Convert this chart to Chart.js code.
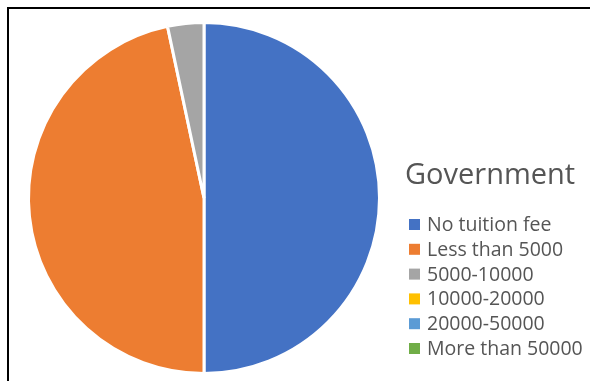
<!DOCTYPE html>
<html>
<head>
<meta charset="utf-8">
<script src="https://cdn.jsdelivr.net/npm/chart.js@4/dist/chart.umd.min.js"></script>
<style>
  html, body { margin: 0; padding: 0; background: #ffffff; }
  #wrap { position: relative; width: 590px; height: 381px; overflow: hidden; }
  #frame {
    position: absolute; left: 7px; top: 7px; width: 600px; height: 400px;
    border-top: 2px solid #000; border-left: 2px solid #000;
  }
  canvas { position: absolute; left: 0; top: 0; }
</style>
</head>
<body>
<div id="wrap">
  <canvas id="pie" width="590" height="381"></canvas>
  <div id="frame"></div>
</div>
<script>
// Tuition fee bands for government institutions
const chartTitle = 'Government';
const categories = ['No tuition fee', 'Less than 5000', '5000-10000', '10000-20000', '20000-50000', 'More than 50000'];
const shares = [15, 14, 1, 0, 0, 0];
const sliceColors = ['#4472C4', '#ED7D31', '#A5A5A5', '#FFC000', '#5B9BD5', '#70AD47'];

// Title and legend drawn beside the pie
const sideLegend = {
  id: 'sideLegend',
  afterDraw(chart) {
    const ctx = chart.ctx;
    const ds = chart.data.datasets[0];
    ctx.save();
    ctx.fillStyle = '#555555';
    ctx.textBaseline = 'alphabetic';
    ctx.font = '29px "Open Sans"';
    ctx.fillText(chartTitle, 405, 184);
    ctx.font = '19.5px "Open Sans"';
    chart.data.labels.forEach((label, i) => {
      const baseline = 231 + i * 24.8;
      ctx.fillStyle = ds.backgroundColor[i];
      ctx.fillRect(409, baseline - 12, 11, 11);
      ctx.fillStyle = '#555555';
      ctx.fillText(label, 427, baseline);
    });
    ctx.restore();
  }
};

new Chart(document.getElementById('pie'), {
  type: 'pie',
  data: {
    labels: categories,
    datasets: [{
      data: shares,
      backgroundColor: sliceColors,
      borderColor: '#ffffff',
      borderWidth: 3
    }]
  },
  options: {
    responsive: false,
    animation: false,
    layout: { padding: { left: 27, top: 20, right: 209, bottom: 5 } },
    plugins: {
      legend: { display: false },
      tooltip: { enabled: false }
    }
  },
  plugins: [sideLegend]
});
</script>
</body>
</html>
